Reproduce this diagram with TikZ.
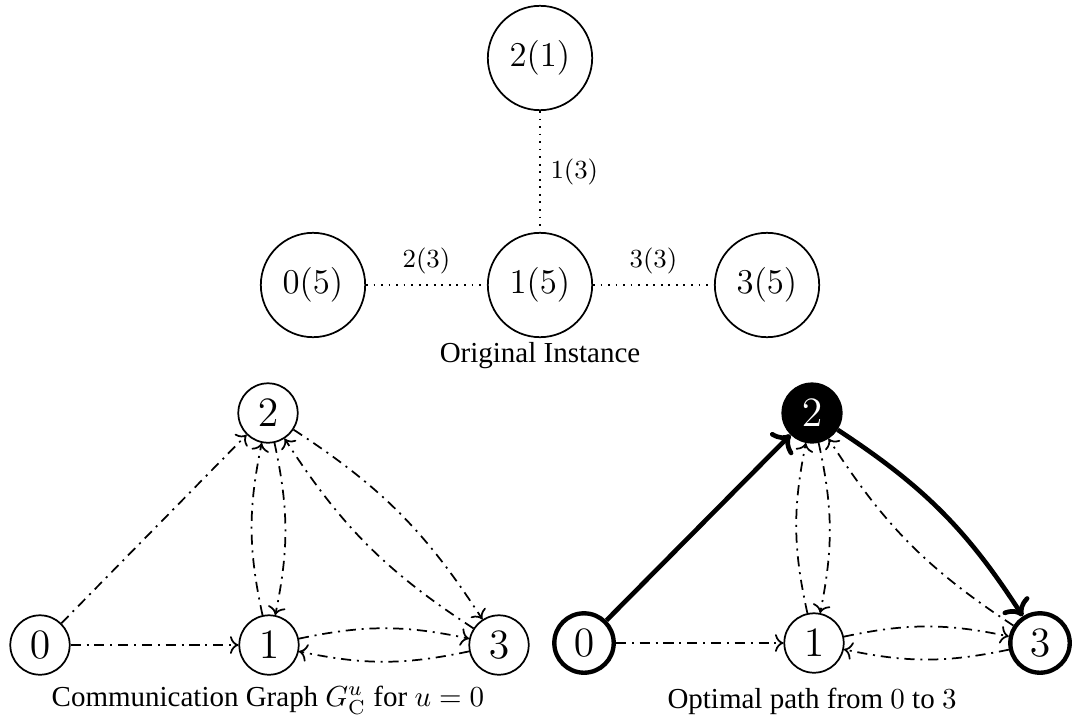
\documentclass[tikz,border=0pt]{standalone}
\usepackage[no-math]{fontspec}
\setmainfont{Liberation Serif}
\usetikzlibrary{arrows.meta,positioning,calc}

\begin{document}
\begin{tikzpicture}[x=0.345pt,y=-0.345pt,
  inst/.style={circle,draw,semithick,minimum size=36pt,inner sep=1pt,font=\fontsize{12.5}{15}\selectfont},
  vtx/.style={circle,draw,semithick,minimum size=20.5pt,inner sep=0.5pt,font=\Large},
  opt/.style={vtx,line width=1.5pt},
  link/.style={dotted,semithick},
  comm/.style={->,semithick,dash pattern=on 3.5pt off 2pt on 0.7pt off 2pt},
  best/.style={->,line width=1.6pt}]
\useasboundingbox (0,0) rectangle (1073,722);

% original instance
\node[inst] (o2) at (540,58) {$2(1)$};
\node[inst] (o0) at (313,285) {$0(5)$};
\node[inst] (o1) at (540,285) {$1(5)$};
\node[inst] (o3) at (767,285) {$3(5)$};
\draw[link] (o2) -- node[right,font=\small] {$1(3)$} (o1);
\draw[link] (o0) -- node[above,font=\small] {$2(3)$} (o1);
\draw[link] (o1) -- node[above,font=\small] {$3(3)$} (o3);
\node (cap1) at (540,356) {Original Instance};

% communication graph
\node[vtx] (a0) at (40,645) {$0$};
\node[vtx] (a1) at (269,645) {$1$};
\node[vtx] (a2) at (268,413) {$2$};
\node[vtx] (a3) at (499,645) {$3$};
\draw[comm] (a0) -- (a2);
\draw[comm] (a0) -- (a1);
\draw[comm] (a1) to[bend left=12] (a2);
\draw[comm] (a2) to[bend left=12] (a1);
\draw[comm] (a1) to[bend left=12] (a3);
\draw[comm] (a3) to[bend left=12] (a1);
\draw[comm] (a2) to[bend left=12] (a3);
\draw[comm] (a3) to[bend left=12] (a2);
\node (cap2) at (268,700) {Communication Graph $G_{\mathrm{C}}^u$ for $u=0$};

% optimal path
\node[opt] (b0) at (584,643) {$0$};
\node[vtx] (b1) at (814,643) {$1$};
\node[vtx,fill=black,text=white] (b2) at (812,413) {$2$};
\node[opt] (b3) at (1040,643) {$3$};
\draw[best] (b0) -- (b2);
\draw[best] (b2) to[bend left=12] (b3);
\draw[comm] (b0) -- (b1);
\draw[comm] (b1) to[bend left=12] (b2);
\draw[comm] (b2) to[bend left=12] (b1);
\draw[comm] (b1) to[bend left=12] (b3);
\draw[comm] (b3) to[bend left=12] (b1);
\draw[comm] (b3) to[bend left=12] (b2);
\node (cap3) at (812,701) {Optimal path from $0$ to $3$};
\end{tikzpicture}
\end{document}
